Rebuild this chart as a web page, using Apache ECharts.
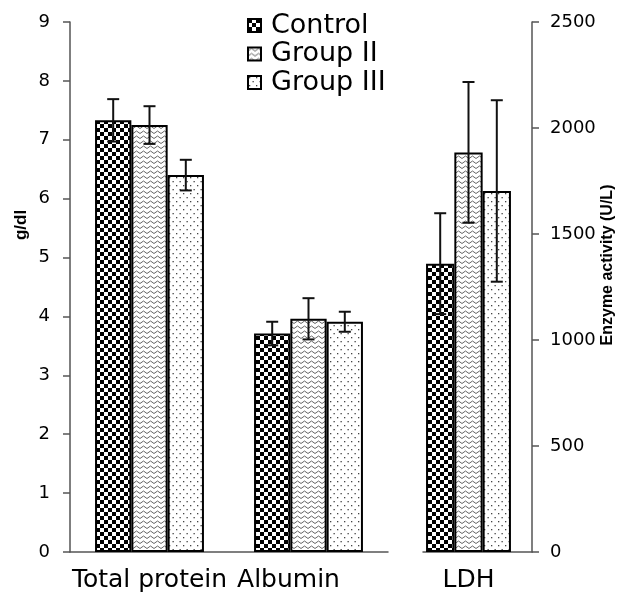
<!DOCTYPE html>
<html>
<head>
<meta charset="utf-8">
<script src="https://cdn.jsdelivr.net/npm/echarts@6/dist/echarts.min.js"></script>
<style>html,body{margin:0;padding:0;background:#fff;}#c{width:626px;height:600px;}</style>
</head>
<body>
<div id="c"></div>
<script>
// ---- data ----
const categoriesLeft = ['Total protein', 'Albumin'];
const categoriesRight = ['LDH'];
const groups = ['Control', 'Group II', 'Group III'];
const leftTicks = [0, 9, 1];
const rightTicks = [0, 2500, 500];

const controlLeft = [7.33, 3.71];
const controlLeftErr = [0.36, 0.20];
const group2Left = [7.25, 3.96];
const group2LeftErr = [0.32, 0.35];
const group3Left = [6.40, 3.91];
const group3LeftErr = [0.26, 0.17];

const ldhMeans = [1360, 1885, 1703];
const ldhErr = [238, 332, 428];

// ---- patterns ----
function mk(w, h, draw) {
  const c = document.createElement('canvas');
  c.width = w; c.height = h;
  const ctx = c.getContext('2d');
  ctx.fillStyle = '#fff'; ctx.fillRect(0, 0, w, h);
  draw(ctx);
  return { image: c, repeat: 'repeat' };
}
const checker = mk(8, 8, ctx => {
  ctx.fillStyle = '#000';
  ctx.fillRect(0, 0, 4, 4); ctx.fillRect(4, 4, 4, 4);
});
const zigzag = mk(7, 5, ctx => {
  ctx.strokeStyle = '#666'; ctx.lineWidth = 1;
  ctx.beginPath();
  ctx.moveTo(0, 3.5); ctx.lineTo(3.5, 1); ctx.lineTo(7, 3.5);
  ctx.stroke();
});
const dots = mk(7, 8, ctx => {
  ctx.fillStyle = '#444';
  ctx.fillRect(1, 1, 1.3, 1.3); ctx.fillRect(4.5, 5, 1.3, 1.3);
});
const fills = [checker, zigzag, dots];

const leftVals = [controlLeft, group2Left, group3Left];
const leftErrs = [controlLeftErr, group2LeftErr, group3LeftErr];

const BW_L = 36.3, BW_R = 28.3, PAD_R = 18;

function errRender(bw, n, extra) {
  return function (params, api) {
    const cat = api.value(0), g = api.value(1);
    const lo = api.coord([cat, api.value(2)]);
    const hi = api.coord([cat, api.value(3)]);
    const total = n * bw + extra;
    const x = lo[0] - total / 2 + bw * (g + 0.5);
    const st = { stroke: '#111', lineWidth: 2 };
    const cw = 6;
    return { type: 'group', children: [
      { type: 'line', shape: { x1: x, y1: hi[1], x2: x, y2: lo[1] }, style: st },
      { type: 'line', shape: { x1: x - cw, y1: hi[1], x2: x + cw, y2: hi[1] }, style: st },
      { type: 'line', shape: { x1: x - cw, y1: lo[1], x2: x + cw, y2: lo[1] }, style: st }
    ]};
  };
}

const series = [];
groups.forEach((g, i) => {
  series.push({
    name: g, type: 'bar', xAxisIndex: 0, yAxisIndex: 0,
    data: leftVals[i], barWidth: BW_L, barGap: '0%',
    itemStyle: { color: fills[i], borderColor: '#000', borderWidth: 2 },
    emphasis: { disabled: true }
  });
});
groups.forEach((g, i) => {
  series.push({
    name: g, type: 'bar', xAxisIndex: 1, yAxisIndex: 1,
    data: [ldhMeans[i]], barWidth: BW_R, barGap: '0%',
    itemStyle: { color: fills[i], borderColor: '#000', borderWidth: 2 },
    emphasis: { disabled: true }
  });
});
// spacer so LDH bars sit left of the band centre as in the original
series.push({ name: 'spacer', type: 'bar', xAxisIndex: 1, yAxisIndex: 1, data: ['-'], barWidth: PAD_R, barGap: '0%', silent: true });

const errLeftData = [];
categoriesLeft.forEach((c, ci) => groups.forEach((g, gi) => {
  errLeftData.push([ci, gi, leftVals[gi][ci] - leftErrs[gi][ci], leftVals[gi][ci] + leftErrs[gi][ci]]);
}));
const errRightData = groups.map((g, gi) => [0, gi, ldhMeans[gi] - ldhErr[gi], ldhMeans[gi] + ldhErr[gi]]);
series.push({ type: 'custom', xAxisIndex: 0, yAxisIndex: 0, renderItem: errRender(BW_L, 3, 0), data: errLeftData, z: 10, silent: true });
series.push({ type: 'custom', xAxisIndex: 1, yAxisIndex: 1, renderItem: errRender(BW_R, 3, PAD_R), data: errRightData, z: 10, silent: true });

const FONT = 'DejaVu Sans';
const axisLine = { show: true, lineStyle: { color: '#555', width: 1.5 } };
const catRich = {
  a: { fontFamily: FONT, fontSize: 25, color: '#000' },
  b: { fontFamily: FONT, fontSize: 25, color: '#000', padding: [0, 40, 0, 0] }
};

const option = {
  animation: false,
  backgroundColor: '#fff',
  grid: [
    { left: 70, top: 22, width: 318, height: 530 },
    { left: 423, top: 22, width: 109, height: 530 }
  ],
  legend: {
    data: groups.map(n => ({ name: n, icon: 'rect' })), orient: 'vertical', left: 247, top: 12,
    itemWidth: 13, itemHeight: 13, itemGap: 1.5, padding: 0,
    itemStyle: { borderColor: '#000', borderWidth: 2 },
    textStyle: { fontFamily: FONT, fontSize: 27, color: '#000', lineHeight: 24, padding: [0, 0, 0, 5] }
  },
  xAxis: [
    { type: 'category', gridIndex: 0, data: categoriesLeft, axisLine, axisTick: { show: false },
      axisLabel: { interval: 0, margin: 16, rich: catRich,
        formatter: (v, i) => (i === 1 ? '{b|' + v + '}' : '{a|' + v + '}') } },
    { type: 'category', gridIndex: 1, data: categoriesRight, axisLine, axisTick: { show: false },
      axisLabel: { interval: 0, fontFamily: FONT, fontSize: 25, color: '#000', margin: 16, padding: [0, PAD_R, 0, 0] } }
  ],
  yAxis: [
    { type: 'value', gridIndex: 0, position: 'left', min: leftTicks[0], max: leftTicks[1], interval: leftTicks[2],
      axisLine, axisTick: { show: true, length: 7, lineStyle: { color: '#555', width: 1.5 } }, splitLine: { show: false },
      axisLabel: { fontFamily: FONT, fontSize: 18, color: '#000', margin: 20 } },
    { type: 'value', gridIndex: 1, position: 'right', min: rightTicks[0], max: rightTicks[1], interval: rightTicks[2],
      axisLine, axisTick: { show: true, length: 7, lineStyle: { color: '#555', width: 1.5 } }, splitLine: { show: false },
      axisLabel: { fontFamily: FONT, fontSize: 18, color: '#000', margin: 18, formatter: v => String(v) } }
  ],
  graphic: [
    { type: 'text', x: 21, y: 225, rotation: Math.PI / 2,
      style: { text: 'g/dl', fontFamily: 'Liberation Sans', fontWeight: 'bold', fontSize: 17, fill: '#000', align: 'center', verticalAlign: 'middle' } },
    { type: 'text', x: 608, y: 265, rotation: Math.PI / 2,
      style: { text: 'Enzyme activity (U/L)', fontFamily: 'Liberation Sans', fontWeight: 'bold', fontSize: 16, fill: '#000', align: 'center', verticalAlign: 'middle' } }
  ],
  series
};
echarts.init(document.getElementById('c')).setOption(option);
</script>
</body>
</html>
